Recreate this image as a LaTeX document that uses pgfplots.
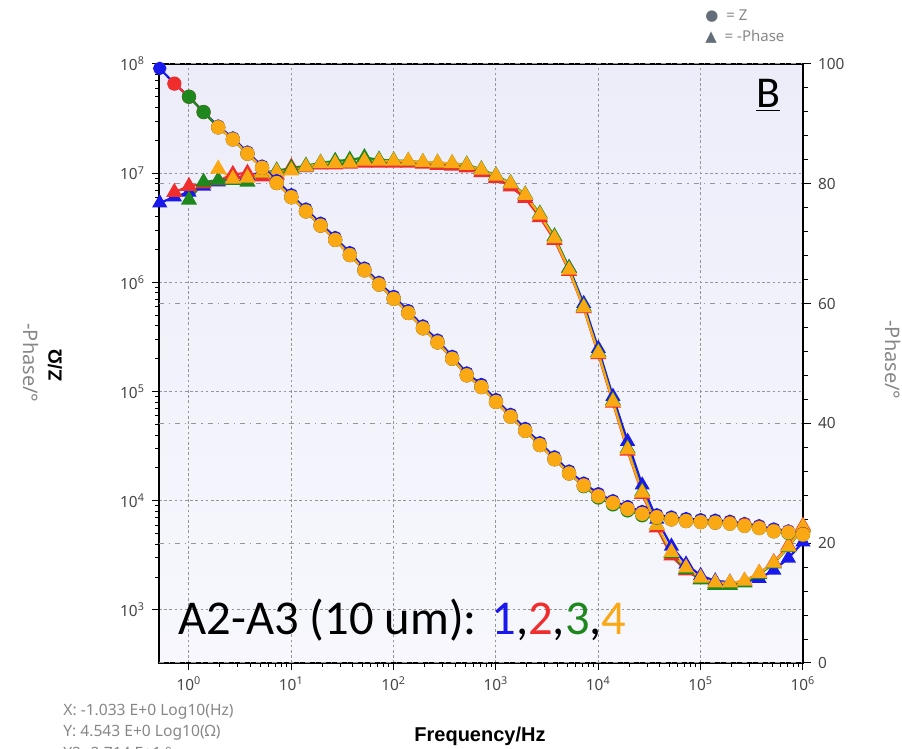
\documentclass[border=0pt]{standalone}
\usepackage{pgfplots}
\usepackage{pgfplotstable}
\pgfplotsset{compat=1.18}
\usepackage{fontspec}
\setmainfont{Noto Sans}
\newfontfamily\calibri{Carlito}
\newfontfamily\dejavu{DejaVu Sans}
\newfontfamily\boldlbl{Liberation Sans}

\definecolor{sblue}{RGB}{25,25,235}
\definecolor{sred}{RGB}{240,45,45}
\definecolor{sgreen}{RGB}{30,135,30}
\definecolor{sorange}{RGB}{250,168,20}
\definecolor{tickgray}{RGB}{70,70,70}
\definecolor{lblgray}{RGB}{135,135,135}
\definecolor{gridgray}{RGB}{150,150,150}
\definecolor{bgtop}{RGB}{237,237,250}
\definecolor{bgbot}{RGB}{247,247,253}
\definecolor{legsym}{RGB}{100,110,120}

% f = frequency (Hz), z = |Z| (Ohm), ph = -phase (deg)
\pgfplotstableread{
f z ph
0.5179 9.12e7 76.8
0.7197 6.61e7 77.8
1 5.01e7 78.6
1.389 3.63e7 79.6
1.931 2.70e7 80.3
2.683 2.10e7 80.9
3.728 1.56e7 81.4
5.179 1.16e7 81.9
7.197 8.54e6 82.1
10 6.33e6 82.3
13.89 4.69e6 82.7
19.31 3.48e6 83.2
26.83 2.57e6 83.4
37.28 1.87e6 83.5
51.79 1.35e6 83.6
71.97 1.00e6 83.6
100 7.43e5 83.6
138.9 5.51e5 83.6
193.1 3.99e5 83.4
268.3 2.96e5 83.3
372.8 2.10e5 83.2
517.9 1.48e5 82.9
719.7 1.16e5 82.1
1000 8.44e4 81.1
1389 6.18e4 79.8
1931 4.59e4 77.9
2683 3.40e4 74.8
3728 2.52e4 71.0
5179 1.87e4 66.0
7197 1.45e4 60.0
10000 1.16e4 52.5
13890 1.00e4 44.5
19310 8830 37.0
26830 7970 29.7
37280 7430 24.0
51790 7100 19.5
71970 6860 16.5
100000 6700 14.6
138900 6630 13.7
193100 6480 13.5
268300 6180 13.5
372800 5900 14.1
517900 5510 15.5
719700 5290 17.5
1000000 5000 20.2
}\tblue

\pgfplotstableread{
f z ph
0.7197 6.61e7 78.6
1 5.01e7 79.6
1.389 3.63e7 80.0
1.931 2.63e7 80.5
2.683 2.04e7 81.6
3.728 1.51e7 81.8
5.179 1.12e7 81.2
7.197 8.13e6 81.5
10 6.03e6 82.8
13.89 4.47e6 82.8
19.31 3.31e6 83.2
26.83 2.45e6 83.2
37.28 1.78e6 83.3
51.79 1.29e6 83.5
71.97 9.55e5 83.5
100 7.08e5 83.5
138.9 5.25e5 83.5
193.1 3.80e5 83.3
268.3 2.82e5 83.1
372.8 2.00e5 83.0
517.9 1.41e5 82.7
719.7 1.10e5 81.9
1000 8.04e4 80.9
1389 5.89e4 79.5
1931 4.37e4 77.6
2683 3.24e4 74.4
3728 2.40e4 70.6
5179 1.78e4 65.4
7197 1.38e4 59.2
10000 1.10e4 51.5
13890 9550 43.4
19310 8410 35.4
26830 7590 28.2
37280 7080 22.6
51790 6760 17.9
71970 6530 15.4
100000 6380 14.0
138900 6310 13.3
193100 6250 13.3
268300 6000 13.7
372800 5700 15.0
517900 5300 16.8
719700 5130 19.6
1000000 4950 22.9
}\tred

\pgfplotstableread{
f z ph
1 5.01e7 77.3
1.389 3.63e7 80.3
1.931 2.63e7 80.6
2.683 2.04e7 80.6
3.728 1.51e7 80.3
5.179 1.12e7 81.8
7.197 8.13e6 82.2
10 6.03e6 82.6
13.89 4.47e6 83.0
19.31 3.31e6 83.5
26.83 2.45e6 83.8
37.28 1.78e6 84.0
51.79 1.29e6 84.4
71.97 9.55e5 84.0
100 7.08e5 83.9
138.9 5.25e5 83.8
193.1 3.80e5 83.6
268.3 2.82e5 83.5
372.8 2.00e5 83.4
517.9 1.41e5 83.2
719.7 1.10e5 82.4
1000 8.04e4 81.4
1389 5.89e4 80.1
1931 4.37e4 78.2
2683 3.24e4 75.0
3728 2.40e4 71.2
5179 1.78e4 65.9
7197 1.36e4 59.5
10000 1.07e4 51.9
13890 9260 43.8
19310 8160 35.8
26830 7360 28.6
37280 7000 23.0
51790 6760 18.3
71970 6530 15.6
100000 6380 13.9
138900 6310 13.0
193100 6170 13.0
268300 5890 13.4
372800 5620 14.8
517900 5250 16.6
719700 5070 19.3
1000000 4900 22.6
}\tgreen

\pgfplotstableread{
f z ph
1.931 2.63e7 82.5
2.683 2.04e7 80.8
3.728 1.51e7 81.0
5.179 1.12e7 81.8
7.197 8.13e6 82.0
10 6.03e6 82.2
13.89 4.47e6 82.8
19.31 3.31e6 83.4
26.83 2.45e6 83.4
37.28 1.78e6 83.5
51.79 1.29e6 83.8
71.97 9.55e5 83.8
100 7.08e5 83.8
138.9 5.25e5 83.8
193.1 3.80e5 83.6
268.3 2.82e5 83.5
372.8 2.00e5 83.4
517.9 1.41e5 83.1
719.7 1.10e5 82.3
1000 8.04e4 81.3
1389 5.89e4 80.0
1931 4.37e4 78.1
2683 3.24e4 74.8
3728 2.40e4 70.9
5179 1.78e4 65.6
7197 1.38e4 59.3
10000 1.10e4 51.7
13890 9550 43.6
19310 8410 35.6
26830 7590 28.4
37280 7080 23.0
51790 6760 18.5
71970 6530 15.9
100000 6380 14.2
138900 6310 13.4
193100 6170 13.4
268300 5890 13.7
372800 5620 15.0
517900 5250 16.7
719700 5130 19.4
1000000 4900 22.7
}\torange

\pgfplotsset{
  /pgf/number format/assume math mode=true,
}
\newcommand\px[2]{({(#1-159)*0.5pt},{(663-#2)*0.5pt})}

\begin{document}
\begin{tikzpicture}
\useasboundingbox (-79.5pt,-43pt) rectangle (371.5pt,331.5pt);

% Z axis: background, grid, ticks
\begin{axis}[
  width=322pt, height=299.5pt, scale only axis,
  xmode=log, ymode=log,
  xmin=0.5094, xmax=1e6, ymin=327, ymax=1e8,
  tick align=outside,
  major tick length=3.5pt, minor tick length=2pt,
  every tick/.style={black, line width=0.5pt},
  axis line style={black, line width=0.8pt},
  ticklabel style={font=\fontsize{7.7}{9}\selectfont, text=tickgray},
  xtick={1,10,100,1000,10000,100000,1000000},
  xticklabels={10\textsuperscript{0},10\textsuperscript{1},10\textsuperscript{2},10\textsuperscript{3},10\textsuperscript{4},10\textsuperscript{5},10\textsuperscript{6}},
  ytick={1e3,1e4,1e5,1e6,1e7,1e8},
  yticklabels={10\textsuperscript{3},10\textsuperscript{4},10\textsuperscript{5},10\textsuperscript{6},10\textsuperscript{7},10\textsuperscript{8}},
  tick pos=left,
  grid=major,
  major grid style={gridgray, line width=0.5pt, dash pattern=on 1.3pt off 1.3pt},
  axis background/.style={top color=bgtop, bottom color=bgbot},
]
\addplot[draw=none, forget plot] table[x=f, y=z] {\tblue};
\end{axis}

% phase axis
\begin{axis}[
  width=322pt, height=299.5pt, scale only axis,
  xmode=log, xmin=0.5094, xmax=1e6,
  ymin=0, ymax=100,
  tick align=outside,
  major tick length=4pt, minor tick length=2.5pt,
  every tick/.style={black, line width=0.5pt},
  axis line style={black, line width=0.8pt},
  ticklabel style={font=\fontsize{7.7}{9}\selectfont, text=tickgray},
  hide x axis, axis y line*=right,
  ytick={0,20,40,60,80,100}, minor y tick num=4,
  ymajorgrids,
  major grid style={gridgray, line width=0.5pt, dash pattern=on 2.5pt off 2.5pt on 0.6pt off 2.5pt},
]
\addplot[sblue, line width=1.1pt, mark=triangle*, mark size=3.3pt] table[x=f, y=ph] {\tblue};
\addplot[sred, line width=1.1pt, mark=triangle*, mark size=3.6pt] table[x=f, y=ph] {\tred};
\addplot[sgreen, line width=1.1pt, mark=triangle*, mark size=3.6pt] table[x=f, y=ph] {\tgreen};
\addplot[sorange, line width=1.1pt, mark=triangle*, mark size=3.6pt] table[x=f, y=ph] {\torange};
\end{axis}

% Z data
\begin{axis}[
  width=322pt, height=299.5pt, scale only axis,
  xmode=log, ymode=log,
  xmin=0.5094, xmax=1e6, ymin=327, ymax=1e8,
  hide axis,
]
\addplot[sblue, line width=1.1pt, mark=*, mark size=2.8pt] table[x=f, y=z] {\tblue};
\addplot[sred, line width=1.1pt, mark=*, mark size=3pt] table[x=f, y=z] {\tred};
\addplot[sgreen, line width=1.1pt, mark=*, mark size=3pt] table[x=f, y=z] {\tgreen};
\addplot[sorange, line width=1.1pt, mark=*, mark size=3pt] table[x=f, y=z] {\torange};
\end{axis}

% annotations
\node[anchor=base, inner sep=0, font=\calibri\fontsize{22}{22}\selectfont] at \px{768}{108} {\underline{B}};
\node[anchor=base west, inner sep=0, font=\calibri\fontsize{24.3}{26}\selectfont] at \px{178}{635}
  {A2-A3 (10 um): \textcolor{sblue}{1},\textcolor{sred}{2},\textcolor{sgreen}{3},\textcolor{sorange}{4}};
\node[anchor=west, inner sep=0, font=\fontsize{7.5}{9}\selectfont, text=lblgray] at \px{705}{16}
  {{\dejavu\textcolor{legsym}{●}}\ \ = Z};
\node[anchor=west, inner sep=0, font=\fontsize{7.5}{9}\selectfont, text=lblgray] at \px{705}{37}
  {{\dejavu\textcolor{legsym}{▲}}\ \ = -Phase};
\node[font=\boldlbl\bfseries\fontsize{10}{12}\selectfont] at \px{480}{736} {Frequency/Hz};
\node[rotate=90, font=\boldlbl\bfseries\fontsize{9.5}{11}\selectfont] at \px{55}{365} {Z/Ω};
\node[rotate=-90, font=\fontsize{10}{12}\selectfont, text=lblgray] at \px{31}{363} {-Phase/°};
\node[rotate=-90, font=\fontsize{10}{12}\selectfont, text=lblgray] at \px{893}{360} {-Phase/°};
\node[anchor=west, inner sep=0, font=\fontsize{7.8}{9}\selectfont, text=lblgray] at \px{63}{712} {X: -1.033 E+0 Log10(Hz)};
\node[anchor=west, inner sep=0, font=\fontsize{7.8}{9}\selectfont, text=lblgray] at \px{63}{733} {Y: 4.543 E+0 Log10(Ω)};
\node[anchor=west, inner sep=0, font=\fontsize{7.8}{9}\selectfont, text=lblgray] at \px{63}{753} {Y2: 2.714 E+1 °};
\end{tikzpicture}
\end{document}
